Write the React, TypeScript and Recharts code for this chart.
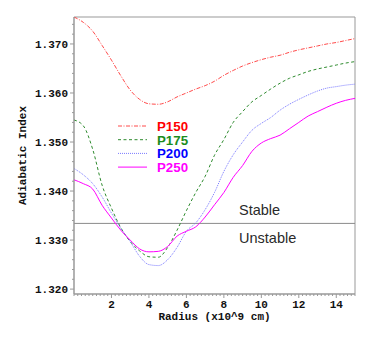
import React from "react";
import {
  LineChart,
  Line,
  XAxis,
  YAxis,
  ReferenceLine,
  ReferenceArea,
  Legend,
  Label,
} from "recharts";

// ---- data ----
const radius = [0, 0.5, 1, 1.5, 2, 2.5, 3, 3.5, 4, 4.5, 5, 5.5, 6, 6.5, 7, 7.5, 8, 8.5, 9, 9.5, 10, 10.5, 11, 11.5, 12, 12.5, 13, 13.5, 14, 14.5, 15];

const p150 = [1.3755, 1.3744, 1.3726, 1.3697, 1.3667, 1.3635, 1.3606, 1.3587, 1.3578, 1.3577, 1.3582, 1.3592, 1.36, 1.3608, 1.3615, 1.3624, 1.3636, 1.3646, 1.3655, 1.3662, 1.3668, 1.3673, 1.3677, 1.3683, 1.3688, 1.3692, 1.3696, 1.37, 1.3703, 1.3707, 1.3711];
const p175 = [1.3545, 1.3533, 1.3485, 1.3412, 1.3365, 1.3325, 1.3297, 1.3278, 1.3266, 1.3265, 1.3285, 1.332, 1.336, 1.3397, 1.343, 1.3473, 1.3505, 1.354, 1.3562, 1.3582, 1.3595, 1.3608, 1.362, 1.363, 1.3637, 1.3644, 1.3649, 1.3653, 1.3657, 1.3661, 1.3664];
const p200 = [1.3446, 1.3433, 1.3415, 1.3388, 1.3355, 1.3324, 1.3297, 1.3267, 1.325, 1.3248, 1.326, 1.3285, 1.3318, 1.3335, 1.3362, 1.3397, 1.344, 1.3474, 1.35, 1.3524, 1.3538, 1.355, 1.3565, 1.3577, 1.3587, 1.3596, 1.3604, 1.361, 1.3613, 1.3616, 1.3618];
const p250 = [1.3423, 1.3415, 1.3404, 1.3371, 1.3345, 1.332, 1.33, 1.3282, 1.3276, 1.3277, 1.3287, 1.3308, 1.3318, 1.3327, 1.3347, 1.3372, 1.3397, 1.3428, 1.3452, 1.3481, 1.3498, 1.3507, 1.3514, 1.3527, 1.354, 1.3553, 1.3562, 1.3571, 1.3579, 1.3585, 1.3589];

const seriesNames = ["P150", "P175", "P200", "P250"];
const xTickLabels = [2, 4, 6, 8, 10, 12, 14];
const yTickLabels = [1.32, 1.33, 1.34, 1.35, 1.36, 1.37];
const criticalIndex = 1.3334;

const data = radius.map((r, i) => ({ r, P150: p150[i], P175: p175[i], P200: p200[i], P250: p250[i] }));

const xMinorTicks = Array.from({ length: 76 }, (_, i) => Math.round(i * 2) / 10);
const yMinorTicks = Array.from({ length: 28 }, (_, i) => Math.round(13200 + i * 20) / 10000);

const styles: Record<string, { stroke: string; text: string; dash?: string }> = {
  P150: { stroke: "#ff4a4a", text: "#ff0000", dash: "4 1.5 1 1.5" },
  P175: { stroke: "#2e8b2e", text: "#1c8c1c", dash: "3 2.5" },
  P200: { stroke: "#7a7aff", text: "#0000ff", dash: "1 1" },
  P250: { stroke: "#ff00ff", text: "#ff00ff" },
};

const AXIS = "#999999";
const monoFont = "'Liberation Mono', 'Courier New', monospace";

const XTick = (props: any) => {
  const { x, y, payload } = props;
  const v = payload.value;
  const isLabel = xTickLabels.some((t) => Math.abs(t - v) < 1e-6);
  return (
    <g>
      <line x1={x} x2={x} y1={y} y2={y + (isLabel ? 4 : 2)} stroke={AXIS} strokeWidth={1} />
      {isLabel && (
        <text x={x} y={y + 14} textAnchor="middle" fontFamily={monoFont} fontWeight="bold" fontSize={11} fill="#111">
          {v}
        </text>
      )}
    </g>
  );
};

const YTick = (props: any) => {
  const { x, y, payload } = props;
  const v = payload.value;
  const isLabel = yTickLabels.some((t) => Math.abs(t - v) < 1e-7);
  return (
    <g>
      <line x1={x - (isLabel ? 4 : 2)} x2={x} y1={y} y2={y} stroke={AXIS} strokeWidth={1} />
      {isLabel && (
        <text x={x - 6} y={y + 4} textAnchor="end" fontFamily={monoFont} fontWeight="bold" fontSize={11} fill="#111">
          {v.toFixed(3)}
        </text>
      )}
    </g>
  );
};

const LegendContent = () => (
  <svg width={110} height={60} style={{ display: "block" }}>
    {seriesNames.map((name, i) => {
      const cy = 10 + i * 13.7;
      const s = styles[name];
      return (
        <g key={name}>
          <line x1={8} x2={37} y1={cy} y2={cy} stroke={s.stroke} strokeWidth={1} strokeDasharray={s.dash} />
          <text x={47} y={cy + 4.8} fontFamily="'Liberation Sans', Arial, sans-serif" fontWeight="bold" fontSize={13.3} fill={s.text}>
            {name}
          </text>
        </g>
      );
    })}
  </svg>
);

export default function App() {
  return (
    <div style={{ position: "absolute", left: 0, top: 0, width: 374, height: 346, background: "#fff" }}>
      <LineChart width={374} height={346} data={data} margin={{ top: 17, right: 19, bottom: 0, left: 0 }}>
        <XAxis
          dataKey="r"
          type="number"
          domain={[0, 15]}
          allowDataOverflow
          ticks={xMinorTicks}
          interval={0}
          tick={<XTick />}
          tickLine={false}
          tickSize={0}
          tickMargin={0}
          height={52}
          axisLine={{ stroke: AXIS }}
        >
          <Label
            content={(p: any) => {
              const vb = p.viewBox || { x: 74, y: 294, width: 281 };
              return (
                <text x={vb.x + vb.width / 2} y={vb.y + 25.5} textAnchor="middle" fontFamily={monoFont} fontWeight="bold" fontSize={11} fill="#111">
                  Radius (x10^9 cm)
                </text>
              );
            }}
          />
        </XAxis>
        <YAxis
          type="number"
          domain={[1.319, 1.3755]}
          allowDataOverflow
          ticks={yMinorTicks}
          interval={0}
          tick={<YTick />}
          tickLine={false}
          tickSize={0}
          tickMargin={0}
          width={74}
          axisLine={{ stroke: AXIS }}
        >
          <Label
            content={(p: any) => {
              const vb = p.viewBox || { x: 0, y: 17, height: 277 };
              const cy = vb.y + vb.height / 2;
              return (
                <text transform={`translate(${vb.x + 26},${cy}) rotate(-90)`} textAnchor="middle" fontFamily={monoFont} fontWeight="bold" fontSize={11} fill="#111">
                  Adiabatic Index
                </text>
              );
            }}
          />
        </YAxis>
        <ReferenceArea x1={0} x2={15} y1={1.319} y2={1.3755} stroke={AXIS} strokeWidth={1} fill="none" fillOpacity={0} />
        <ReferenceLine y={criticalIndex} stroke="#8a8a8a" strokeWidth={1}>
          <Label
            content={(p: any) => {
              const vb = p.viewBox || { x: 74, y: 223 };
              return (
                <g fontFamily="'Liberation Sans', Arial, sans-serif" fontSize={14.5} fill="#2a2a2a">
                  <text x={vb.x + 165} y={vb.y - 8.5}>Stable</text>
                  <text x={vb.x + 165} y={vb.y + 19.5}>Unstable</text>
                </g>
              );
            }}
          />
        </ReferenceLine>
        {seriesNames.map((name) => (
          <Line
            key={name}
            dataKey={name}
            type="monotone"
            stroke={styles[name].stroke}
            strokeWidth={1}
            strokeDasharray={styles[name].dash}
            dot={false}
            activeDot={false}
            isAnimationActive={false}
          />
        ))}
        <Legend
          layout="vertical"
          align="center"
          verticalAlign="middle"
          content={<LegendContent />}
          wrapperStyle={{ left: 110, top: 116, width: 110, height: 60 }}
        />
      </LineChart>
    </div>
  );
}
